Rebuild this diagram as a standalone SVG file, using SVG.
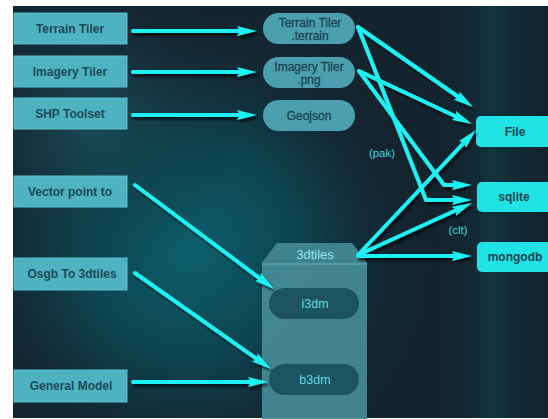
<svg xmlns="http://www.w3.org/2000/svg" width="548" height="419" viewBox="0 0 548 419">
<defs>
<radialGradient id="glow" cx="190" cy="250" r="240" gradientUnits="userSpaceOnUse">
<stop offset="0" stop-color="#0a6470" stop-opacity="0.95"/>
<stop offset="0.45" stop-color="#0b5360" stop-opacity="0.7"/>
<stop offset="1" stop-color="#13242f" stop-opacity="0"/>
</radialGradient>
<radialGradient id="glow2" cx="90" cy="120" r="160" gradientUnits="userSpaceOnUse">
<stop offset="0" stop-color="#1f5763" stop-opacity="0.7"/>
<stop offset="1" stop-color="#13242f" stop-opacity="0"/>
</radialGradient>
<linearGradient id="rightglow" x1="0" y1="0" x2="1" y2="0">
<stop offset="0" stop-color="#13242f" stop-opacity="0"/>
<stop offset="0.5" stop-color="#0e3f4a" stop-opacity="0.6"/>
<stop offset="1" stop-color="#13242f" stop-opacity="0"/>
</linearGradient>
<filter id="sh" x="-20%" y="-20%" width="140%" height="140%">
<feDropShadow dx="2" dy="3" stdDeviation="1.2" flood-color="#000" flood-opacity="0.6"/>
</filter>
<marker id="ah" viewBox="0 0 20 10" refX="6" refY="5" markerWidth="20" markerHeight="10" markerUnits="userSpaceOnUse" orient="auto">
<path d="M0,0 L20,5 L0,10 L3,5 z" fill="#1ef2f4"/>
</marker>
</defs>
<style>
.box{fill:#4fb2c1;stroke:#5cc0ce;stroke-width:1}
.btxt{font-family:"Liberation Sans",Arial,sans-serif;font-size:12px;font-weight:bold;fill:#1c4a56;text-anchor:middle}
.pill{fill:#4b9fae}
.ptxt{font-family:"Liberation Sans",Arial,sans-serif;font-size:12px;fill:#1a4450;stroke:#1a4450;stroke-width:0.3;text-anchor:middle}
.out{fill:#20e3e6}
.otxt{font-family:"Liberation Sans",Arial,sans-serif;font-size:12px;font-weight:bold;fill:#174550;text-anchor:middle}
.inner{fill:#1d5360}
.itxt{font-family:"Liberation Sans",Arial,sans-serif;font-size:12.5px;fill:#5fdde6;text-anchor:middle}
.lbl{font-family:"Liberation Sans",Arial,sans-serif;font-size:11.5px;fill:#3fd8df;text-anchor:middle}
.c{fill:none;stroke:#1ef2f4;stroke-width:4;stroke-linecap:round;stroke-linejoin:round;marker-end:url(#ah)}
</style>
<rect x="0" y="0" width="548" height="419" fill="#ffffff"/>
<rect x="13" y="6" width="535" height="412" fill="#13242f"/>
<rect x="13" y="6" width="535" height="412" fill="url(#glow)"/>
<rect x="13" y="6" width="535" height="412" fill="url(#glow2)"/>
<rect x="440" y="6" width="108" height="412" fill="url(#rightglow)"/>

<g id="terrain-tiler"><rect class="box" x="14" y="13" width="113" height="31"/><text class="btxt" x="70" y="33">Terrain Tiler</text></g>
<g id="imagery-tiler"><rect class="box" x="14" y="56" width="113" height="31"/><text class="btxt" x="70" y="76">Imagery Tiler</text></g>
<g id="shp-toolset"><rect class="box" x="14" y="98" width="113" height="31"/><text class="btxt" x="70" y="118">SHP Toolset</text></g>
<g id="vector-point"><rect class="box" x="14" y="176" width="113" height="31"/><text class="btxt" x="70" y="196">Vector point to</text></g>
<g id="osgb"><rect class="box" x="14" y="258" width="113" height="32"/><text class="btxt" x="72" y="278">Osgb To 3dtiles</text></g>
<g id="general-model"><rect class="box" x="14" y="370" width="113" height="32"/><text class="btxt" x="71" y="390">General Model</text></g>

<g id="terrain-pill"><rect class="pill" x="263" y="13" width="92" height="31" rx="15.5"/><text class="ptxt" x="310" y="27">Terrain Tiler</text><text class="ptxt" x="310" y="40">.terrain</text></g>
<g id="imagery-pill"><rect class="pill" x="263" y="57" width="92" height="31" rx="15.5"/><text class="ptxt" x="309" y="71">Imagery Tiler</text><text class="ptxt" x="309" y="84">.png</text></g>
<g id="geojson-pill"><rect class="pill" x="263" y="100" width="92" height="31" rx="15.5"/><text class="ptxt" x="309" y="120">Geojson</text></g>

<g id="tiles3d">
<path d="M262,263 L277,243 L352,243 L367,263 L367,419 L262,419 z" fill="#458c97" opacity="0.92"/>
<path d="M262,263 L277,243 L352,243 L367,263 z" fill="#3f838e"/>
<line x1="262" y1="264" x2="367" y2="264" stroke="#5aa3ad" stroke-width="1.5"/>
<text x="315" y="259" font-family="'Liberation Sans',Arial,sans-serif" font-size="13" fill="#8ee6ee" text-anchor="middle">3dtiles</text>
</g>
<g id="i3dm"><rect class="inner" x="269" y="288" width="90" height="31" rx="15.5"/><text class="itxt" x="315" y="308">i3dm</text></g>
<g id="b3dm"><rect class="inner" x="269" y="364" width="90" height="31" rx="15.5"/><text class="itxt" x="315" y="384">b3dm</text></g>

<g id="file"><rect class="out" x="476" y="116" width="82" height="31" rx="5"/><text class="otxt" x="515" y="136">File</text></g>
<g id="sqlite"><rect class="out" x="477" y="182" width="81" height="30" rx="5"/><text class="otxt" x="514" y="201">sqlite</text></g>
<g id="mongodb"><rect class="out" x="477" y="242" width="81" height="30" rx="5"/><text class="otxt" x="515" y="261">mongodb</text></g>

<g id="connectors" filter="url(#sh)">
<path class="c" d="M133,31 L243,31"/>
<path class="c" d="M133,72 L243,72"/>
<path class="c" d="M133,115 L243,115"/>
<path class="c" d="M358,27 L461.5,99"/>
<path class="c" d="M359,71 L459.3,118"/>
<path class="c" d="M358,27 L426,200 L458,200"/>
<path class="c" d="M359,71 L444,185 L458,185"/>
<path class="c" d="M358,255 L466.4,140.2"/>
<path class="c" d="M358,255 L459.3,208.8"/>
<path class="c" d="M358,256 L458,256"/>
<path class="c" d="M135,185 L262.8,280.6"/>
<path class="c" d="M135,273 L259.6,360.9"/>
<path class="c" d="M133,382 L254,382"/>
</g>
<text class="lbl" x="382" y="157">(pak)</text>
<text class="lbl" x="458" y="234" font-size="12.5">(clt)</text>
</svg>
